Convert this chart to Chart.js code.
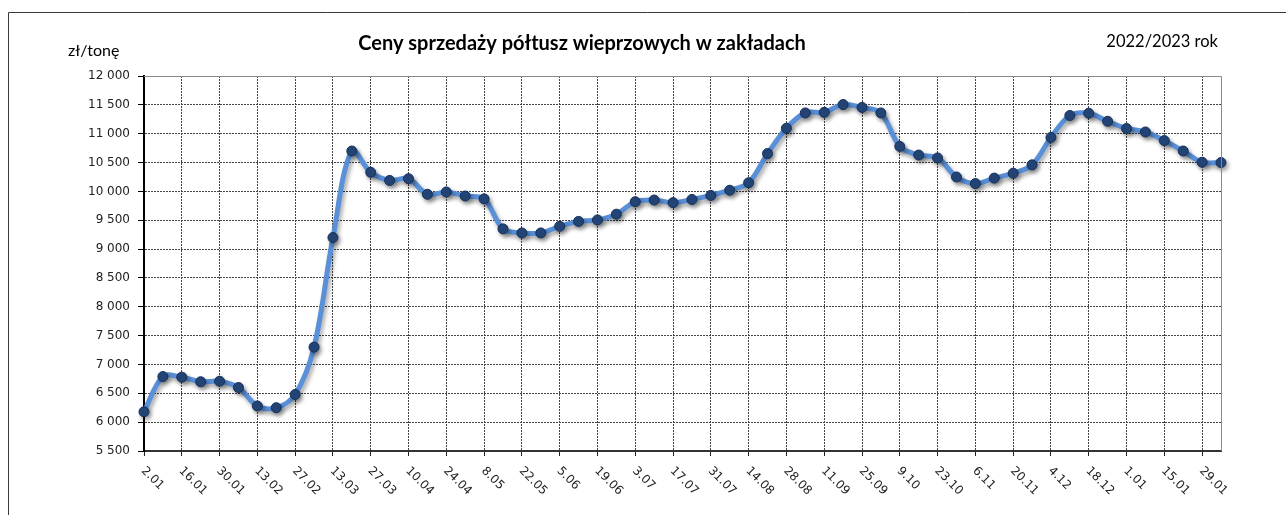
<!DOCTYPE html>
<html>
<head>
<meta charset="utf-8">
<script src="https://cdn.jsdelivr.net/npm/chart.js@4.4.1/dist/chart.umd.min.js"></script>
<style>
  html, body { margin: 0; padding: 0; background: #fff; }
  #wrap { width: 1286px; height: 515px; position: relative; }
</style>
</head>
<body>
<div id="wrap"><canvas id="chart" width="1286" height="515"></canvas></div>
<script>
// weekly dates, 2.01.2022 - 5.02.2023
const weekLabels = [
  '2.01', '9.01', '16.01', '23.01', '30.01', '6.02', '13.02', '20.02', '27.02', '6.03',
  '13.03', '20.03', '27.03', '3.04', '10.04', '17.04', '24.04', '1.05', '8.05', '15.05',
  '22.05', '29.05', '5.06', '12.06', '19.06', '26.06', '3.07', '10.07', '17.07', '24.07',
  '31.07', '7.08', '14.08', '21.08', '28.08', '4.09', '11.09', '18.09', '25.09', '2.10',
  '9.10', '16.10', '23.10', '30.10', '6.11', '13.11', '20.11', '27.11', '4.12', '11.12',
  '18.12', '25.12', '1.01', '8.01', '15.01', '22.01', '29.01', '5.02'
];

// zł/tonę
const prices = [
  6180, 6790, 6780, 6700, 6710, 6600, 6280, 6250, 6480, 7300,
  9200, 10700, 10330, 10190, 10220, 9950, 9990, 9920, 9870, 9350,
  9280, 9280, 9395, 9480, 9505, 9605, 9820, 9850, 9805, 9860,
  9930, 10020, 10150, 10655, 11095, 11360, 11370, 11505, 11455, 11360,
  10780, 10630, 10580, 10250, 10135, 10230, 10315, 10460, 10935, 11315,
  11355, 11215, 11090, 11030, 10880, 10700, 10505, 10500
];

const yMin = 5500;
const yMax = 12000;
const yStep = 500;

const title = 'Ceny sprzedaży półtusz wieprzowych w zakładach';
const unitLabel = 'zł/tonę';
const periodLabel = '2022/2023 rok';

function fmt(v) {
  return String(v).replace(/\B(?=(\d{3})+(?!\d))/g, ' ');
}

// frame, titles, outer borders and rotated x labels
const decorPlugin = {
  id: 'decor',
  beforeDraw(chart) {
    const ctx = chart.ctx;
    ctx.save();
    ctx.strokeStyle = '#3a3a3a';
    ctx.lineWidth = 1;
    ctx.beginPath();
    ctx.moveTo(8.5, 515);
    ctx.lineTo(8.5, 12.5);
    ctx.lineTo(1286, 12.5);
    ctx.stroke();
    ctx.restore();
  },
  afterDraw(chart) {
    const ctx = chart.ctx;
    const a = chart.chartArea;
    const xs = chart.scales.x;
    ctx.save();
    // top + right border of plot area
    ctx.strokeStyle = '#8a8a8a';
    ctx.lineWidth = 1;
    ctx.setLineDash([]);
    ctx.beginPath();
    ctx.moveTo(a.left, a.top + 0.5);
    ctx.lineTo(a.right + 0.5, a.top + 0.5);
    ctx.lineTo(a.right + 0.5, a.bottom);
    ctx.stroke();

    ctx.fillStyle = '#000';
    ctx.textBaseline = 'middle';
    ctx.font = 'bold 20px Lato, "Open Sans", sans-serif';
    ctx.textAlign = 'center';
    ctx.fillText(title, 582, 44);

    ctx.font = '16px Lato, "Open Sans", sans-serif';
    ctx.textAlign = 'left';
    ctx.fillText(unitLabel, 68, 51);

    ctx.font = '16.5px Lato, "Open Sans", sans-serif';
    ctx.textAlign = 'right';
    ctx.fillText(periodLabel, 1218, 42);

    // x labels, rotated 45deg clockwise
    ctx.font = '12px "DejaVu Sans", sans-serif';
    ctx.fillStyle = '#222';
    ctx.textAlign = 'left';
    ctx.textBaseline = 'middle';
    weekLabels.forEach((lab, i) => {
      if (i % 2) return;
      const x = xs.getPixelForValue(i);
      ctx.save();
      ctx.translate(x - 1, a.bottom + 18);
      ctx.rotate(Math.PI / 4);
      ctx.fillText(lab, 0, 0);
      ctx.restore();
    });
    ctx.restore();
  }
};

const shadowPlugin = {
  id: 'lineShadow',
  beforeDatasetsDraw(chart) {
    const ctx = chart.ctx;
    ctx.save();
    ctx.shadowColor = 'rgba(0,0,0,0.35)';
    ctx.shadowBlur = 4;
    ctx.shadowOffsetX = 2;
    ctx.shadowOffsetY = 3;
  },
  afterDatasetsDraw(chart) {
    chart.ctx.restore();
  }
};

new Chart(document.getElementById('chart'), {
  type: 'line',
  data: {
    labels: weekLabels,
    datasets: [{
      data: prices,
      borderColor: '#5a90d8',
      borderWidth: 5,
      tension: 0.35,
      pointRadius: 5,
      pointBackgroundColor: '#24477a',
      pointBorderColor: '#14305a',
      pointBorderWidth: 1,
      clip: false,
      fill: false
    }]
  },
  options: {
    responsive: false,
    animation: false,
    layout: { padding: { top: 76, right: 65, left: 0, bottom: 0 } },
    plugins: { legend: { display: false }, tooltip: { enabled: false }, title: { display: false } },
    scales: {
      x: {
        type: 'category',
        offset: false,
        afterFit(scale) { scale.height = 64; },
        ticks: { display: false, autoSkip: false },
        grid: {
          color: (c) => (c.index % 2 ? 'rgba(0,0,0,0)' : '#444'),
          tickColor: (c) => (c.index % 2 ? 'rgba(0,0,0,0)' : '#222'),
          lineWidth: 1,
          tickLength: 5,
          tickWidth: 1
        },
        border: { display: true, color: '#333', width: 2, dash: [2, 1] }
      },
      y: {
        min: yMin,
        max: yMax,
        afterFit(scale) { scale.width = 144; },
        ticks: {
          stepSize: yStep,
          padding: 8,
          color: '#222',
          font: { family: '"DejaVu Sans", sans-serif', size: 12 },
          callback: (v) => fmt(v)
        },
        grid: {
          color: '#444',
          lineWidth: 1,
          tickLength: 6,
          tickColor: '#000',
          tickWidth: 1
        },
        border: { display: true, color: '#000', width: 2, dash: [2, 1] }
      }
    }
  },
  plugins: [decorPlugin, shadowPlugin]
});
</script>
</body>
</html>
